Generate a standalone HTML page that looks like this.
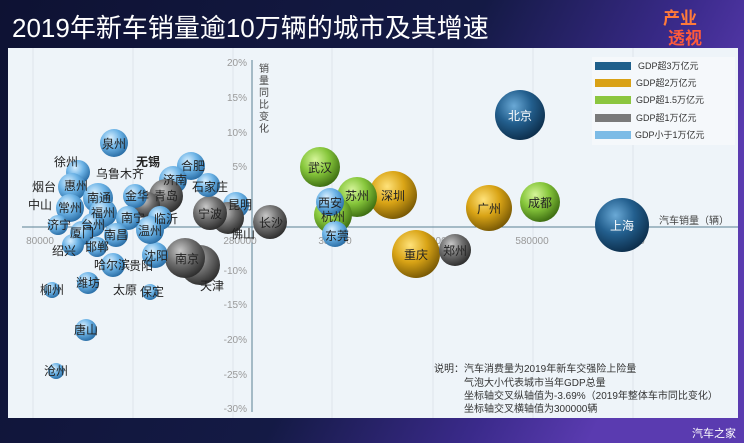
<!DOCTYPE html>
<html><head><meta charset="utf-8"><style>
html,body{margin:0;padding:0;width:744px;height:443px;overflow:hidden;background:#0f1336;}
svg{display:block;font-family:"Liberation Sans","Noto Sans CJK SC",sans-serif;}
</style></head><body>
<svg width="744" height="443" viewBox="0 0 744 443" xmlns="http://www.w3.org/2000/svg">
<defs>
<linearGradient id="bg" x1="0" y1="0" x2="1" y2="0.3">
<stop offset="0" stop-color="#0e1233"/><stop offset="0.6" stop-color="#141a45"/><stop offset="0.85" stop-color="#3a2a8a"/><stop offset="1" stop-color="#5a3bb0"/></linearGradient>
<radialGradient id="gD" cx="0.38" cy="0.32" r="0.7"><stop offset="0" stop-color="#6aa9d6"/><stop offset="0.5" stop-color="#235f8e"/><stop offset="1" stop-color="#0d2f4d"/></radialGradient>
<radialGradient id="gG" cx="0.38" cy="0.32" r="0.7"><stop offset="0" stop-color="#ffe27a"/><stop offset="0.5" stop-color="#d9a416"/><stop offset="1" stop-color="#7a5a05"/></radialGradient>
<radialGradient id="gR" cx="0.38" cy="0.32" r="0.7"><stop offset="0" stop-color="#d6f59a"/><stop offset="0.5" stop-color="#86c63b"/><stop offset="1" stop-color="#3e6e12"/></radialGradient>
<radialGradient id="gY" cx="0.38" cy="0.32" r="0.7"><stop offset="0" stop-color="#c8c8c8"/><stop offset="0.5" stop-color="#6f6f6f"/><stop offset="1" stop-color="#2e2e2e"/></radialGradient>
<radialGradient id="gL" cx="0.38" cy="0.32" r="0.7"><stop offset="0" stop-color="#d8efff"/><stop offset="0.5" stop-color="#6cb3e6"/><stop offset="1" stop-color="#2a6ea6"/></radialGradient>
</defs>
<rect width="744" height="443" fill="url(#bg)"/>
<text x="12" y="37" font-size="26" fill="#fff">2019年新车销量逾10万辆的城市及其增速</text>
<text x="663" y="24" font-size="17" fill="#ff7a3a" font-weight="bold">产业</text>
<text x="668" y="44" font-size="17" fill="#ff5a3a" font-weight="bold">透视</text>
<rect x="8" y="48" width="730" height="370" fill="#eef4f9"/>
<g stroke="#dde5ec" stroke-width="1">
<line x1="33" y1="48" x2="33" y2="418"/><line x1="133" y1="48" x2="133" y2="418"/><line x1="233" y1="48" x2="233" y2="418"/><line x1="332" y1="48" x2="332" y2="418"/><line x1="433" y1="48" x2="433" y2="418"/><line x1="533" y1="48" x2="533" y2="418"/><line x1="633" y1="48" x2="633" y2="418"/>
</g>
<g stroke="#5a7f94" stroke-width="1">
<line x1="252" y1="60" x2="252" y2="412"/><line x1="22" y1="227" x2="738" y2="227"/>
</g>
<g font-size="10" fill="#999" text-anchor="end">
<text x="247" y="66">20%</text><text x="247" y="101">15%</text><text x="247" y="136">10%</text><text x="247" y="170">5%</text>
<text x="247" y="274">-10%</text><text x="247" y="308">-15%</text><text x="247" y="343">-20%</text><text x="247" y="378">-25%</text><text x="247" y="412">-30%</text>
</g>
<g font-size="10" fill="#999" text-anchor="middle">
<text x="40" y="244">80000</text><text x="240" y="244">280000</text><text x="335" y="244">380000</text><text x="430" y="244">480000</text><text x="532" y="244">580000</text><text x="628" y="244">680000</text>
</g>
<g font-size="10" fill="#444"><text x="259" y="72">销</text><text x="259" y="84">量</text><text x="259" y="96">同</text><text x="259" y="108">比</text><text x="259" y="120">变</text><text x="259" y="132">化</text></g>
<text x="659" y="224" font-size="10" fill="#444">汽车销量（辆）</text>
<g>
<circle cx="520" cy="115" r="25" fill="url(#gD)"/>
<circle cx="622" cy="225" r="27" fill="url(#gD)"/>
<circle cx="489" cy="208" r="23" fill="url(#gG)"/>
<circle cx="393" cy="195" r="24" fill="url(#gG)"/>
<circle cx="416" cy="254" r="24" fill="url(#gG)"/>
<circle cx="540" cy="202" r="20" fill="url(#gR)"/>
<circle cx="320" cy="167" r="20" fill="url(#gR)"/>
<circle cx="357" cy="197" r="20" fill="url(#gR)"/>
<circle cx="333" cy="215" r="19" fill="url(#gR)"/>
<circle cx="330" cy="202" r="14" fill="url(#gL)"/>
<circle cx="335" cy="234" r="13" fill="url(#gL)"/>
<circle cx="455" cy="250" r="16" fill="url(#gY)"/>
<circle cx="270" cy="222" r="17" fill="url(#gY)"/>
<circle cx="236" cy="205" r="13" fill="url(#gL)"/>
<circle cx="228" cy="218" r="16" fill="url(#gY)"/>
<circle cx="210" cy="213" r="17" fill="url(#gY)"/>
<circle cx="208" cy="185" r="12" fill="url(#gL)"/>
<circle cx="191" cy="166" r="14" fill="url(#gL)"/>
<circle cx="173" cy="180" r="14" fill="url(#gL)"/>
<circle cx="166" cy="196" r="17" fill="url(#gY)"/>
<circle cx="147" cy="205" r="13" fill="url(#gY)"/>
<circle cx="160" cy="218" r="12" fill="url(#gL)"/>
<circle cx="135" cy="196" r="12" fill="url(#gL)"/>
<circle cx="200" cy="265" r="20" fill="url(#gY)"/>
<circle cx="185" cy="258" r="20" fill="url(#gY)"/>
<circle cx="155" cy="255" r="13" fill="url(#gL)"/>
<circle cx="150" cy="230" r="14" fill="url(#gL)"/>
<circle cx="114" cy="143" r="14" fill="url(#gL)"/>
<circle cx="78" cy="172" r="12" fill="url(#gL)"/>
<circle cx="72" cy="187" r="14" fill="url(#gL)"/>
<circle cx="98" cy="198" r="15" fill="url(#gL)"/>
<circle cx="70" cy="208" r="14" fill="url(#gL)"/>
<circle cx="103" cy="213" r="14" fill="url(#gL)"/>
<circle cx="93" cy="225" r="12" fill="url(#gL)"/>
<circle cx="58" cy="225" r="10" fill="url(#gL)"/>
<circle cx="82" cy="233" r="12" fill="url(#gL)"/>
<circle cx="73" cy="245" r="11" fill="url(#gL)"/>
<circle cx="97" cy="247" r="10" fill="url(#gL)"/>
<circle cx="128" cy="218" r="12" fill="url(#gL)"/>
<circle cx="116" cy="235" r="12" fill="url(#gL)"/>
<circle cx="113" cy="265" r="12" fill="url(#gL)"/>
<circle cx="88" cy="283" r="11" fill="url(#gL)"/>
<circle cx="52" cy="290" r="8" fill="url(#gL)"/>
<circle cx="150" cy="292" r="8" fill="url(#gL)"/>
<circle cx="86" cy="330" r="11" fill="url(#gL)"/>
<circle cx="56" cy="371" r="8" fill="url(#gL)"/>
</g>
<g font-size="12" fill="#222" text-anchor="middle">
<text x="520" y="120" fill="#fff">北京</text><text x="622" y="230" fill="#fff">上海</text>
<text x="489" y="213">广州</text><text x="393" y="200">深圳</text><text x="416" y="259">重庆</text>
<text x="540" y="207">成都</text><text x="320" y="172">武汉</text><text x="357" y="200">苏州</text>
<text x="333" y="221">杭州</text><text x="330" y="207">西安</text><text x="337" y="240">东莞</text>
<text x="455" y="255">郑州</text><text x="271" y="227">长沙</text><text x="243" y="238">佛山</text>
<text x="240" y="209">昆明</text><text x="210" y="191">石家庄</text><text x="193" y="170">合肥</text>
<text x="175" y="184">济南</text><text x="166" y="200">青岛</text><text x="166" y="223">临沂</text>
<text x="137" y="200">金华</text><text x="210" y="218">宁波</text><text x="187" y="263">南京</text>
<text x="212" y="290">天津</text><text x="156" y="260">沈阳</text><text x="150" y="235">温州</text>
<text x="114" y="148">泉州</text><text x="66" y="166">徐州</text><text x="120" y="178">乌鲁木齐</text>
<text x="148" y="166" font-weight="bold">无锡</text><text x="44" y="191">烟台</text><text x="76" y="190">惠州</text>
<text x="99" y="202">南通</text><text x="40" y="209">中山</text><text x="70" y="212">常州</text>
<text x="103" y="217">福州</text><text x="93" y="229">台州</text><text x="59" y="229">济宁</text>
<text x="82" y="237">厦门</text><text x="64" y="255">绍兴</text><text x="97" y="251">邯郸</text>
<text x="133" y="222">南宁</text><text x="116" y="239">南昌</text><text x="112" y="269">哈尔滨</text>
<text x="141" y="270">贵阳</text><text x="88" y="287">潍坊</text><text x="52" y="294">柳州</text>
<text x="125" y="294">太原</text><text x="152" y="296">保定</text><text x="86" y="334">唐山</text>
<text x="56" y="375">沧州</text>
</g>
<rect x="592" y="57" width="143" height="88" fill="#f5f8fb"/>
<rect x="595" y="62" width="36" height="8" fill="#1f5f8b"/><text x="638" y="69" font-size="9" fill="#333">GDP超3万亿元</text>
<rect x="595" y="79" width="36" height="8" fill="#d9a116"/><text x="636" y="86" font-size="9" fill="#333">GDP超2万亿元</text>
<rect x="595" y="96" width="36" height="8" fill="#8cc63f"/><text x="636" y="103" font-size="9" fill="#333">GDP超1.5万亿元</text>
<rect x="595" y="114" width="36" height="8" fill="#7a7a7a"/><text x="636" y="121" font-size="9" fill="#333">GDP超1万亿元</text>
<rect x="595" y="131" width="36" height="8" fill="#7cbbe6"/><text x="635" y="138" font-size="9" fill="#333">GDP小于1万亿元</text>
<g font-size="10" fill="#333">
<text x="434" y="372">说明：汽车消费量为2019年新车交强险上险量</text>
<text x="464" y="386">气泡大小代表城市当年GDP总量</text>
<text x="464" y="399">坐标轴交叉纵轴值为-3.69%（2019年整体车市同比变化）</text>
<text x="464" y="412">坐标轴交叉横轴值为300000辆</text>
</g>
<text x="692" y="437" font-size="11" fill="#fff">汽车之家</text>
</svg>
</body></html>
